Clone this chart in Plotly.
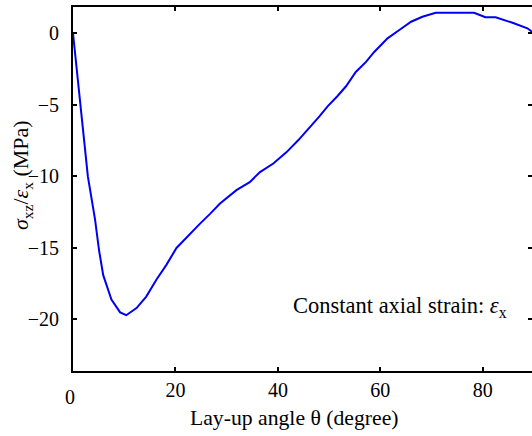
import plotly.graph_objects as go

theta = [0, 1.4, 2.9, 4.3, 5.1, 5.9, 7.5, 9.2, 10.4, 12.4, 14.3, 16.3, 18.2, 20.2,
         22.8, 24.8, 26.8, 28.7, 31.9, 34.5, 36.5, 39.1, 41.7, 44.0, 48.1, 49.7,
         51.6, 53.3, 55.2, 57.2, 58.8, 61.4, 63.7, 66.0, 68.2, 70.8, 78.3, 80.5,
         82.5, 85.8, 88.7, 90]
ratio = [0, -5, -10, -13.0, -15.2, -16.9, -18.6, -19.5, -19.7, -19.2, -18.4, -17.2,
         -16.2, -15.0, -14.0, -13.3, -12.6, -11.9, -10.96, -10.4, -9.7, -9.1, -8.3,
         -7.46, -5.8, -5.1, -4.4, -3.7, -2.7, -2.0, -1.3, -0.35, 0.23, 0.81, 1.16,
         1.44, 1.44, 1.12, 1.12, 0.74, 0.35, 0.0]

x_ticks = [0, 20, 40, 60, 80]
x_ticktext = ["", "20", "40", "60", "80"]
y_ticks = [0, -5, -10, -15, -20]

font_family = "Liberation Serif, Times New Roman, Times, serif"
x_range = [0, 89.6]
y_range = [-23.6, 1.84]

W, H = 532, 436
ML, MR, MT, MB = 73, 0, 7, 65
plot_w = W - ML - MR
plot_h = H - MT - MB

fig = go.Figure()
fig.add_trace(go.Scatter(x=theta, y=ratio, mode="lines",
                         line=dict(color="#0000f0", width=2), showlegend=False))
# invisible trace for right-side mirrored ticks
fig.add_trace(go.Scatter(x=[], y=[], yaxis="y2", showlegend=False))

fig.update_layout(
    width=W, height=H,
    margin=dict(l=ML, r=MR, t=MT, b=MB),
    paper_bgcolor="white", plot_bgcolor="white",
    font=dict(family=font_family, size=20, color="black"),
    xaxis=dict(range=x_range, tickvals=x_ticks, ticktext=x_ticktext,
               ticks="inside", ticklen=4, tickwidth=1.5, tickcolor="black",
               showline=True, linecolor="black", linewidth=2, mirror="ticks",
               showgrid=False, zeroline=False, ticklabelstandoff=0,
               tickfont=dict(family=font_family, size=20)),
    yaxis=dict(range=y_range, tickvals=y_ticks,
               ticks="inside", ticklen=4, tickwidth=1.5, tickcolor="black",
               showline=True, linecolor="black", linewidth=2,
               tickfont=dict(family=font_family, size=20),
               showgrid=False, zeroline=False, ticklabelstandoff=8),
    yaxis2=dict(range=y_range, tickvals=y_ticks, overlaying="y", side="right",
                ticks="inside", ticklen=4, tickwidth=1.5, tickcolor="black",
                showline=False, showticklabels=False, showgrid=False,
                zeroline=False),
)

# x tick label "0" (drawn slightly lower, as in the reference)
fig.add_annotation(x=0, y=0, xref="x", yref="paper", text="0", showarrow=False,
                   xanchor="center", yanchor="top", xshift=-3, yshift=-13,
                   font=dict(family=font_family, size=20))
# x axis title
fig.add_annotation(x=(294 - ML) / plot_w, y=(H - MB - 418) / plot_h,
                   xref="paper", yref="paper", xanchor="center", yanchor="middle",
                   text="Lay-up angle θ (degree)", showarrow=False,
                   font=dict(family=font_family, size=21.7))
# y axis title
fig.add_annotation(x=(22 - ML) / plot_w, y=(H - MB - 175) / plot_h,
                   xref="paper", yref="paper", xanchor="center", yanchor="middle",
                   text="<i>σ</i><sub>xz</sub>/<i>ε</i><sub>x</sub> (MPa)",
                   showarrow=False, textangle=-90,
                   font=dict(family=font_family, size=22))
# in-plot label
fig.add_annotation(x=(400 - ML) / plot_w, y=(H - MB - 307) / plot_h,
                   xref="paper", yref="paper", xanchor="center", yanchor="middle",
                   text="Constant axial strain: <i>ε</i><sub>x</sub>",
                   showarrow=False, font=dict(family=font_family, size=22.5))

fig.write_html("out.html")
